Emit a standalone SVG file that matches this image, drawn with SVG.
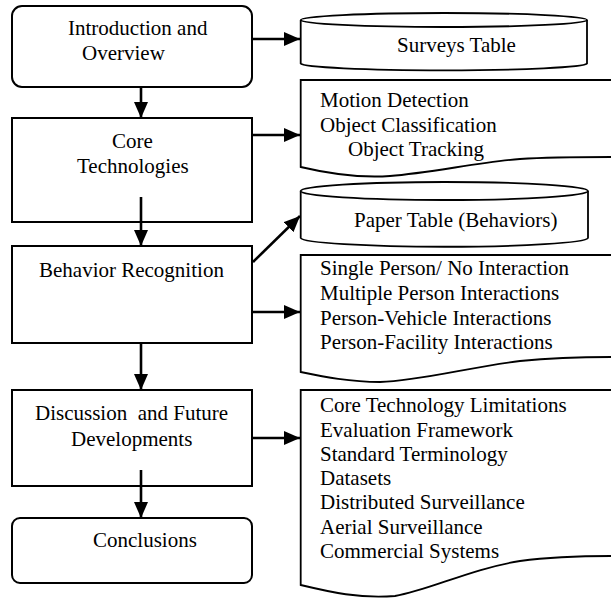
<svg xmlns="http://www.w3.org/2000/svg" width="611" height="598" viewBox="0 0 611 598">
<style>
.box{fill:#fff;stroke:#000;stroke-width:2}
.shp{fill:#fff;stroke:#000;stroke-width:1.8}
.t{font-family:"Liberation Serif","Times New Roman",serif;font-size:21px;fill:#000}
.c{fill:none;stroke:#000;stroke-width:2.6}
</style>
<defs>
<marker id="ah" viewBox="0 0 16 14" refX="16" refY="7" markerWidth="16" markerHeight="14" markerUnits="userSpaceOnUse" orient="auto">
<path d="M0,0 L16,7 L0,14 Z" fill="#000"/>
</marker>
</defs>
<rect width="611" height="598" fill="#fff"/>

<g id="intro">
<rect class="box" x="12" y="6" width="240" height="81" rx="10"/>
<text class="t" x="68" y="35">Introduction and</text>
<text class="t" x="82" y="60">Overview</text>
</g>
<g id="core">
<rect class="box" x="12" y="118" width="240" height="104"/>
<text class="t" x="112" y="148">Core</text>
<text class="t" x="77" y="173">Technologies</text>
</g>
<g id="behavior">
<rect class="box" x="12" y="246" width="240" height="97"/>
<text class="t" x="39" y="277">Behavior Recognition</text>
</g>
<g id="discussion">
<rect class="box" x="12" y="390" width="240" height="96"/>
<text class="t" x="35" y="420" xml:space="preserve">Discussion  and Future</text>
<text class="t" x="71" y="446">Developments</text>
</g>
<g id="conclusions">
<rect class="box" x="12" y="518" width="240" height="65" rx="8"/>
<text class="t" x="93" y="547">Conclusions</text>
</g>

<g id="surveys">
<path class="shp" d="M300.7,20 V63.5 A143.2,7 0 0 0 587,63.5 V20"/>
<ellipse class="shp" cx="443.9" cy="20" rx="143.2" ry="7"/>
<text class="t" x="397" y="52">Surveys Table</text>
</g>
<g id="coretech">
<path class="shp" d="M300.7,80 H620 V157 H611 C580,157 550,157 520,159 C480,162 430,173 390,176 C360,178 330,174 300.7,167 Z"/>
<text class="t" x="320" y="107">Motion Detection</text>
<text class="t" x="320" y="132">Object Classification</text>
<text class="t" x="348" y="156">Object Tracking</text>
</g>
<g id="paper">
<path class="shp" d="M300.7,191 V238 A143.7,9 0 0 0 588,238 V191"/>
<ellipse class="shp" cx="444.3" cy="191" rx="143.7" ry="9"/>
<text class="t" x="354" y="227">Paper Table (Behaviors)</text>
</g>
<g id="behaviors">
<path class="shp" d="M300.7,255 H620 V357 H611 C580,357 550,358 520,361 C470,367 420,381 380,382 C350,382 325,377 300.7,372 Z"/>
<text class="t" x="320" y="275">Single Person/ No Interaction</text>
<text class="t" x="320" y="300">Multiple Person Interactions</text>
<text class="t" x="320" y="325">Person-Vehicle Interactions</text>
<text class="t" x="320" y="349">Person-Facility Interactions</text>
</g>
<g id="future">
<path class="shp" d="M300.7,390 H620 V556 H611 C580,556 550,557 520,561 C470,569 430,590 395,596 C360,599 330,592 300.7,585 Z"/>
<text class="t" x="320" y="412">Core Technology Limitations</text>
<text class="t" x="320" y="437">Evaluation Framework</text>
<text class="t" x="320" y="461">Standard Terminology</text>
<text class="t" x="320" y="485">Datasets</text>
<text class="t" x="320" y="509">Distributed Surveillance</text>
<text class="t" x="320" y="534">Aerial Surveillance</text>
<text class="t" x="320" y="558">Commercial Systems</text>
</g>

<g id="connectors">
<line class="c" x1="141" y1="87" x2="141" y2="118" marker-end="url(#ah)"/>
<line class="c" x1="141" y1="197" x2="141" y2="246" marker-end="url(#ah)"/>
<line class="c" x1="141" y1="343" x2="141" y2="390" marker-end="url(#ah)"/>
<line class="c" x1="141" y1="470" x2="141" y2="518" marker-end="url(#ah)"/>
<line class="c" x1="252" y1="39" x2="300" y2="39" marker-end="url(#ah)"/>
<line class="c" x1="252" y1="135" x2="300" y2="135" marker-end="url(#ah)"/>
<line class="c" x1="253" y1="262" x2="300" y2="216" marker-end="url(#ah)"/>
<line class="c" x1="252" y1="312" x2="300" y2="312" marker-end="url(#ah)"/>
<line class="c" x1="252" y1="438" x2="300" y2="438" marker-end="url(#ah)"/>
</g>
</svg>
